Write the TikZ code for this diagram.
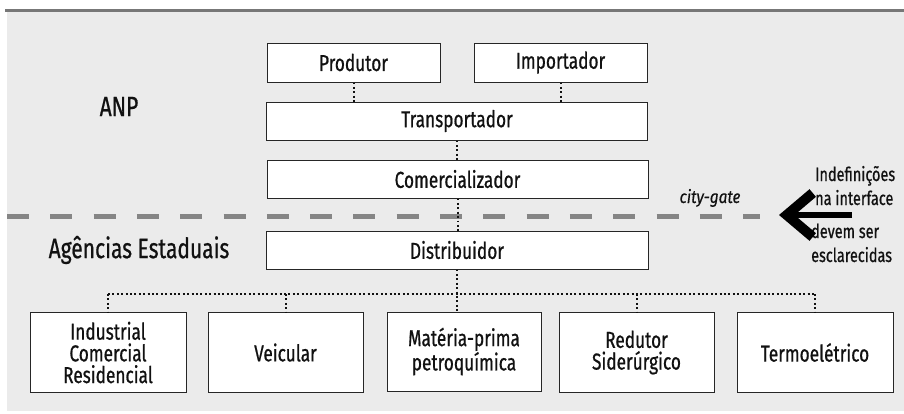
\documentclass[tikz,border=0pt]{standalone}
\usepackage{fontspec}
\setmainfont{Fira Sans}[FakeStretch=0.75, FakeBold=0.7]
\newfontfamily\gatefont{Fira Sans}[FakeStretch=0.85, FakeBold=0.5]
\usetikzlibrary{arrows.meta}
\definecolor{bgc}{HTML}{EBEBEB}
\definecolor{rulec}{HTML}{777777}
\definecolor{dashc}{HTML}{858585}
\definecolor{inkc}{HTML}{111111}
\begin{document}
\begin{tikzpicture}[x=1pt,y=-1pt,
  stagebox/.style={draw=black!85, fill=white, line width=1pt, inner sep=0pt, text=inkc,
    font=\fontsize{23}{21.7}\selectfont, align=center},
  dotconn/.style={line width=2pt, dash pattern=on 1.9pt off 2.5pt, inkc},
  bigtitle/.style={font=\fontsize{28}{30}\selectfont, text=inkc, inner sep=0pt},
  sidetext/.style={font=\fontsize{19.3}{24}\selectfont, text=inkc, inner sep=0pt, align=left},
  gatedash/.style={line width=5pt, dashc, dash pattern=on 22pt off 21.3pt},
  bigarrow/.style={line width=6pt, black, -{Straight Barb[length=26pt,width=44pt,line width=10pt]}}
]
\useasboundingbox (0,0) rectangle (904,413);
% background and top rule
\fill[bgc] (7,12) rectangle (904,411);
\draw[rulec, line width=3pt] (5,10.5) -- (904,10.5);

% city-gate line
\draw[gatedash] (7,216) -- (760,216);

% boxes
\node[stagebox, minimum width=173pt, minimum height=39pt] (prod) at (353.5,62.5) {Produtor};
\node[stagebox, minimum width=173pt, minimum height=39pt] (imp) at (560.5,62.5) {Importador};
\node[stagebox, minimum width=381pt, minimum height=38pt] (trans) at (457,121) {Transportador};
\node[stagebox, minimum width=381pt, minimum height=38pt] (com) at (457.5,179) {Comercializador};
\node[stagebox, minimum width=382pt, minimum height=38pt] (dist) at (457,250) {Distribuidor};

\node[stagebox, minimum width=156pt, minimum height=80pt] (b1) at (108,352.5) {Industrial\\Comercial\\Residencial};
\node[stagebox, minimum width=155pt, minimum height=80pt] (b2) at (285.5,352.5) {Veicular};
\node[stagebox, minimum width=154pt, minimum height=79pt] (b3) at (464,351.5) {Matéria-prima\\petroquímica};
\node[stagebox, minimum width=155pt, minimum height=80pt] (b4) at (636.5,352.5) {Redutor\\Siderúrgico};
\node[stagebox, minimum width=156pt, minimum height=80pt] (b5) at (815,352.5) {Termoelétrico};

% connectors
\draw[dotconn] (prod.south) -- (prod.south |- trans.north);
\draw[dotconn] (imp.south) -- (imp.south |- trans.north);
\draw[dotconn] (trans.south) -- (trans.south |- com.north);
\draw[dotconn] (com.south) -- (com.south |- dist.north);
\coordinate (hl) at (457,294);
\draw[dotconn] (dist.south) -- (dist.south |- b3.north);
\draw[dotconn] (b1.north |- hl) -- (b5.north |- hl);
\draw[dotconn] (b1.north |- hl) -- (b1.north);
\draw[dotconn] (b2.north |- hl) -- (b2.north);
\draw[dotconn] (b4.north |- hl) -- (b4.north);
\draw[dotconn] (b5.north |- hl) -- (b5.north);

% labels
\node[bigtitle] (anp) at (119,106.5) {ANP};
\node[bigtitle] (agen) at (139,250) {Agências Estaduais};
\node[font=\gatefont\fontsize{18}{20}\selectfont\itshape, text=inkc, inner sep=0pt, anchor=base] (gate) at (710,203) {city-gate};
\node[sidetext, anchor=base west] (ind) at (815,205) {Indefinições\\na interface};
\node[sidetext, anchor=base west] (dev) at (811,262) {devem ser\\esclarecidas};

% big arrow
\coordinate (arrS) at (852,215);
\coordinate (arrT) at (779,215);
\draw[bigarrow] (arrS) -- (arrT);
\end{tikzpicture}
\end{document}
